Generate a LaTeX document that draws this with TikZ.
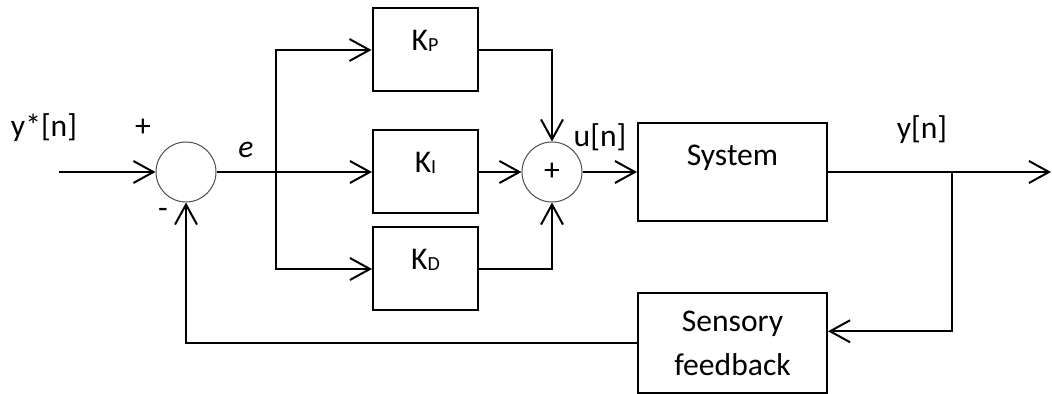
\documentclass[tikz,border=0pt]{standalone}
\usepackage{fontspec}
\setmainfont{Carlito}
\usetikzlibrary{arrows.meta,positioning}
\newcommand{\idx}[1]{\raisebox{-0.5pt}{\fontsize{10}{12}\selectfont #1}}

\begin{document}
\begin{tikzpicture}[x=0.5pt,y=-0.5pt,>={Straight Barb[length=10pt,width=11pt]},line width=1pt,
  font=\fontsize{15.8}{22}\selectfont,
  blk/.style={draw,inner sep=0pt,minimum width=52.5pt,text height=21pt,text depth=20.5pt},
  sm/.style={circle,draw=black!70,line width=0.5pt,minimum size=30pt,inner sep=0pt}]
\useasboundingbox (0,0) rectangle (1052,394);
% summing points and blocks
\node[sm] (s1) at (186,172) {};
\node[sm] (s2) at (552,172) {+};
\node[blk] (kp) at (425,50) {K\idx{P}};
\node[blk] (ki) at (425.5,172) {K\idx{I}};
\node[blk] (kd) at (425.5,269) {K\idx{D}};
\node[blk,minimum width=94.5pt,text height=21.5pt,text depth=27.5pt] (sys) at (732.5,172) {System};
\node[draw,inner sep=0pt,minimum width=94.5pt,minimum height=50pt,align=center] (fb) at (732.5,343) {Sensory\\feedback};
% signal labels
\node (yref) at (44,128) {y*[n]};
\node (pl) at (143,128) {+};
\node (mi) at (163,213) {-};
\node (err) at (246,150) {\textit{e}};
\node (un) at (600,137) {u[n]};
\node (yn) at (922,130) {y[n]};
\coordinate (in) at (59,172);
\coordinate (split) at (276,172);
\coordinate (tap) at (952,172);
\coordinate (out) at (1051,172);
% connections
\draw[->] (in) -- (s1);
\draw[->] (s1.east) -- (ki.west);
\draw[->] (split) |- (kp.west);
\draw[->] (split) |- (kd.west);
\draw[->] (kp.east) -| (s2.north);
\draw[->] (ki.east) -- (s2.west);
\draw[->] (kd.east) -| (s2.south);
\draw[->] (s2) -- (sys);
\draw[->] (sys.east) -- (out);
\draw[->] (tap) |- (fb.7);
\draw[->] (fb.west) -| (s1.south);
\end{tikzpicture}
\end{document}
